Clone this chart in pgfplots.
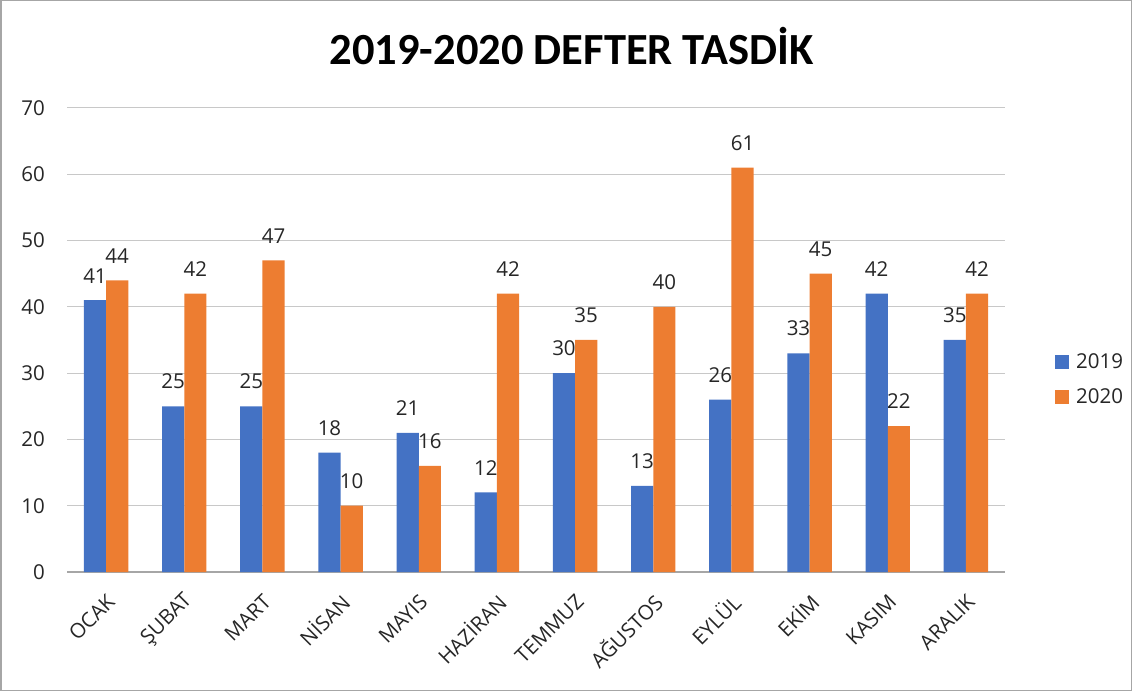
\documentclass[border=0pt]{standalone}
\usepackage{pgfplots}
\pgfplotsset{compat=1.18}
\usepackage{fontspec}
\setmainfont{Open Sans}
\newfontfamily\titlefont{Carlito}
\definecolor{c2019}{HTML}{4472C4}
\definecolor{c2020}{HTML}{ED7D31}
\definecolor{gridc}{HTML}{C8C8C8}
\definecolor{axc}{HTML}{A6A6A6}
\begin{document}
\begin{tikzpicture}
	% page = 1132 x 691, 1pt per pixel
	\path[draw=axc, line width=1.5pt] (0.75pt,0.75pt) rectangle (1131.25pt,690.25pt);
	\begin{axis}[
	at={(67pt,119pt)}, anchor=south west,
	scale only axis,
	width=938pt, height=464pt,
	ybar=0pt, bar width=22.2pt,
	xmin=-0.5, xmax=11.5,
	ymin=0, ymax=70,
	ytick={0,10,...,70},
	xtick=data,
	xticklabels={OCAK,ŞUBAT,MART,NİSAN,MAYIS,HAZİRAN,TEMMUZ,AĞUSTOS,EYLÜL,EKİM,KASIM,ARALIK},
	axis x line*=bottom,
	axis y line*=left,
	y axis line style={draw=none},
	x axis line style={draw=axc, line width=1.2pt},
	major tick length=0pt,
	ymajorgrids,
	grid style={draw=gridc, line width=1pt},
	/pgf/number format/assume math mode=true,
	yticklabel style={font=\fontsize{20.5}{22}\selectfont, anchor=east, inner sep=0pt, xshift=-22pt, text=black!85},
	xticklabel style={xshift=5pt, yshift=-26pt, rotate=45, anchor=east, inner sep=0pt, font=\fontsize{20.5}{22}\selectfont, text=black!85},
	nodes near coords,
	every node near coord/.append style={font=\fontsize{20.5}{22}\selectfont, inner sep=0pt, yshift=17pt, text=black!85},
	title={2019-2020 DEFTER TASDİK},
	title style={font=\titlefont\fontsize{44.5}{48}\selectfont\bfseries, at={(axis description cs:0.538,1.121)}, anchor=center},
	legend style={at={(axis description cs:1.0533,0.415)}, anchor=west, draw=none,
		font=\fontsize{20.5}{22}\selectfont, row sep=16pt, inner sep=0pt,
		nodes={inner sep=1pt, text=black!85}},
	legend image code/.code={\fill[#1] (0pt,-7pt) rectangle (14pt,7pt);},
	legend cell align=left,
	]
		\addplot [fill=c2019, draw=none] coordinates {
			(0,41) (1,25) (2,25) (3,18) (4,21) (5,12)
			(6,30) (7,13) (8,26) (9,33) (10,42) (11,35)
		};
		\addplot [fill=c2020, draw=none] coordinates {
			(0,44) (1,42) (2,47) (3,10) (4,16) (5,42)
			(6,35) (7,40) (8,61) (9,45) (10,22) (11,42)
		};
		\legend{\hspace{6pt}2019,\hspace{6pt}2020}
	\end{axis}
\end{tikzpicture}
\end{document}
